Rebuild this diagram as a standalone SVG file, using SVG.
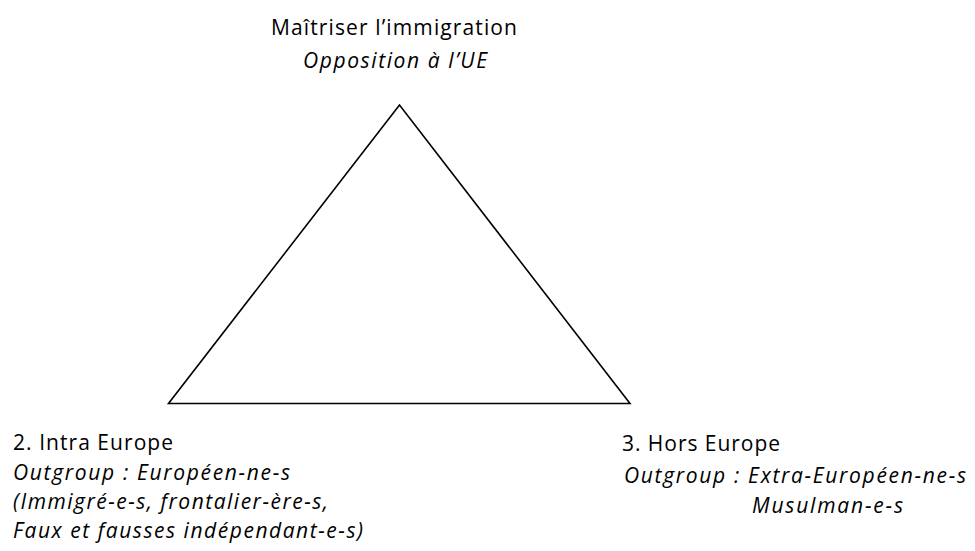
<svg xmlns="http://www.w3.org/2000/svg" width="975" height="551" viewBox="0 0 975 551">
<style>
text{font-family:"Open Sans","Liberation Sans",sans-serif;font-size:21px;fill:#000}
.i{font-style:italic}
.edge{stroke:#000;stroke-width:1.6;fill:none;stroke-linejoin:miter}
</style>
<rect width="975" height="551" fill="#fff"/>
<g id="connectors">
<polygon class="edge" points="399.5,105 168.5,403.5 630,403.5"/>
</g>
<g id="node-top">
<text x="271" y="35" textLength="246">Maîtriser l’immigration</text>
<text class="i" x="303" y="68" textLength="184">Opposition à l’UE</text>
</g>
<g id="node-left">
<text x="13" y="450" textLength="160">2. Intra Europe</text>
<text class="i" x="13" y="479.5" textLength="277">Outgroup : Européen-ne-s</text>
<text class="i" x="13" y="508.5" textLength="315">(Immigré-e-s, frontalier-ère-s,</text>
<text class="i" x="13" y="537.5" textLength="350">Faux et fausses indépendant-e-s)</text>
</g>
<g id="node-right">
<text x="622" y="451" textLength="158">3. Hors Europe</text>
<text class="i" x="624" y="482.5" textLength="342">Outgroup : Extra-Européen-ne-s</text>
<text class="i" x="752" y="512.5" textLength="151">Musulman-e-s</text>
</g>
</svg>
